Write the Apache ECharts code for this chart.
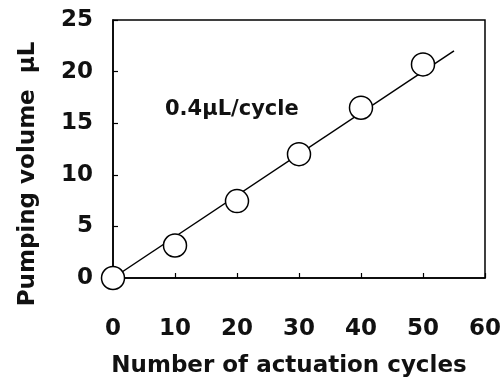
<!DOCTYPE html>
<html>
<head>
<meta charset="utf-8">
<script src="https://cdn.jsdelivr.net/npm/echarts@6/dist/echarts.min.js"></script>
<style>html,body{margin:0;padding:0;background:#fff}#c{width:504px;height:383px}</style>
</head>
<body>
<div id="c"></div>
<script>
// Data
const cycles = [0, 10, 20, 30, 40, 50];
const volumes = [0, 3.15, 7.45, 12.0, 16.5, 20.7];
const fitX = [0, 55];
const fitY = [0, 22];
const annotation = '0.4\u03bcL/cycle';
const xName = 'Number of actuation cycles';
const yName = 'Pumping volume  \u03bcL';

const font = '"DejaVu Sans", sans-serif';
const chart = echarts.init(document.getElementById('c'), null, {renderer: 'canvas'});
chart.setOption({
  backgroundColor: '#fff',
  animation: false,
  grid: {left: 113, right: 18, top: 20, bottom: 101, show: true, borderColor: '#000', borderWidth: 1.5, backgroundColor: 'transparent'},
  xAxis: {
    type: 'value', min: 0, max: 60, interval: 10,
    name: xName, nameLocation: 'middle', nameGap: 77,
    nameTextStyle: {fontFamily: font, fontWeight: 'bold', fontSize: 23, color: '#111', padding: [0, 20, 0, 0]},
    axisLine: {show: true, lineStyle: {color: '#000', width: 1.5}},
    axisTick: {show: true, inside: true, length: 5, lineStyle: {color: '#000', width: 1.2}},
    axisLabel: {fontFamily: font, fontWeight: 'bold', fontSize: 23, color: '#111', margin: 40},
    splitLine: {show: false}
  },
  yAxis: {
    type: 'value', min: 0, max: 25, interval: 5,
    name: yName, nameLocation: 'middle', nameGap: 73, nameRotate: 90,
    nameTextStyle: {fontFamily: font, fontWeight: 'bold', fontSize: 23, color: '#111', padding: [0, 50, 0, 0]},
    axisLine: {show: true, lineStyle: {color: '#000', width: 1.5}},
    axisTick: {show: true, inside: true, length: 5, lineStyle: {color: '#000', width: 1.2}},
    axisLabel: {fontFamily: font, fontWeight: 'bold', fontSize: 23, color: '#111', margin: 20},
    splitLine: {show: false}
  },
  graphic: [{
    type: 'text', left: 165, top: 99,
    style: {text: annotation, font: 'bold 21px ' + font, fill: '#111'}
  }],
  series: [
    {
      type: 'line', data: fitX.map((x, i) => [x, fitY[i]]),
      showSymbol: false, symbol: 'none', z: 1,
      lineStyle: {color: '#000', width: 1.5}
    },
    {
      type: 'scatter', data: cycles.map((x, i) => [x, volumes[i]]),
      symbol: 'circle', symbolSize: 23, z: 3,
      itemStyle: {color: '#fff', borderColor: '#000', borderWidth: 1.5, opacity: 1}
    }
  ]
});
</script>
</body>
</html>
